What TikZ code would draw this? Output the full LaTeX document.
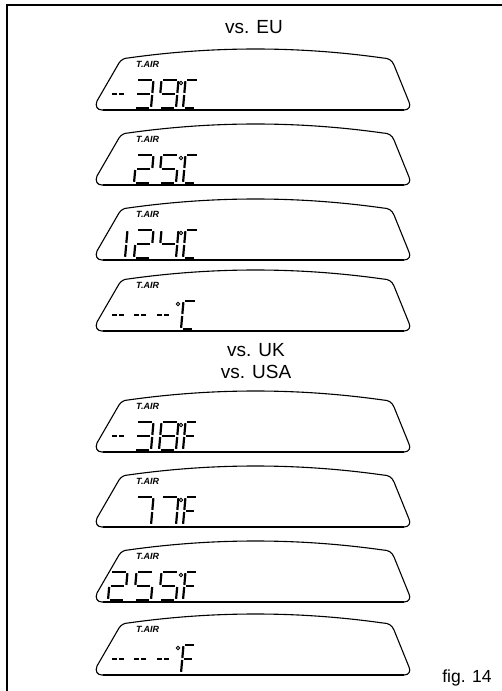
\documentclass[tikz,border=0pt]{standalone}
\usepackage{fontspec}
\setmainfont{Liberation Sans}
\usetikzlibrary{positioning}

\tikzset{
  seg/.style={line width=2.2pt, line cap=butt},
  seg a/.style={insert path={(1.8,-28) -- (\segw-1.8,-28)}},
  seg b/.style={insert path={(\segw,-26.8) -- (\segw,-15)}},
  seg c/.style={insert path={(\segw,-13) -- (\segw,-1.2)}},
  seg d/.style={insert path={(1.8,0) -- (\segw-1.8,0)}},
  seg e/.style={insert path={(0,-13) -- (0,-1.2)}},
  seg f/.style={insert path={(0,-26.8) -- (0,-15)}},
  seg g/.style={insert path={(1.8,-14) -- (\segw-1.8,-14)}},
  seg m/.style={insert path={(2.5,-14) -- (7.8,-14) (9.8,-14) -- (15,-14)}},
}

% one 7-segment digit: [width]{left x}{display bottom}{segments}
\newcommand{\segdigit}[4][17]{%
  \begin{scope}[shift={(#2,#3-2)}, xslant=0.09]
    \def\segw{#1}
    \foreach \s in {#4} {\draw[seg, seg \s];}
  \end{scope}}
% degree ring: {x}{display bottom}
\newcommand{\segdeg}[2]{\draw[degree] (#1,#2-27) circle (1.7pt);}

\begin{document}
\begin{tikzpicture}[x=1pt, y=-1pt,
    frame/.style={line width=1.1pt},
    lcd frame/.style={line width=1.1pt, line join=round},
    lcd base/.style={line width=1.9pt},
    tair/.style={font=\bfseries\itshape\fontsize{9}{10}\selectfont, inner sep=0pt, anchor=west},
    heading/.style={font=\fontsize{19}{21}\selectfont, inner sep=0pt},
    degree/.style={line width=0.9pt}]
  \useasboundingbox (0,0) rectangle (502,691);
  % Draw page frame
  \draw[frame] (7,691) -- (7,5) -- (502,5);
  % Draw headings
  \node[heading] (eu) at (254,27) {vs. EU};
  \node[heading] (uk) at (256,350) {vs. UK};
  \node[heading] (usa) at (256,372) {vs. USA};
  \node[heading, font=\fontsize{17.5}{19}\selectfont] (fig) at (467,678) {fig. 14};
  % Draw the eight displays
  \foreach \b/\n in {110/1,185/2,260/3,331/4,452/5,527/6,602/7,675/8} {
    \draw[lcd frame] (102,\b) -- (404,\b) .. controls (409,\b) and (411,\b-4) .. (409,\b-8)
      -- (394,\b-45) .. controls (392,\b-50) and (388,\b-52) .. (383,\b-52)
      .. controls (298,\b-64) and (213,\b-64) .. (128,\b-52)
      .. controls (124,\b-52) and (121,\b-50) .. (119,\b-47)
      -- (97,\b-9) .. controls (95,\b-4) and (97,\b) .. (102,\b) -- cycle;
    \draw[lcd base] (103,\b) -- (404,\b);
    \node[tair] (tair\n) at (136,\b-46) {T.AIR};
  }
  % Draw Celsius readings
  \segdigit{108}{110}{m}
  \segdigit{134}{110}{a,b,c,d,g}
  \segdigit{159}{110}{a,b,c,d,f,g}
  \segdeg{181}{110}
  \segdigit[13]{183}{110}{a,f,e,d}
  \segdigit{134}{185}{a,b,g,e,d}
  \segdigit{159}{185}{a,f,g,c,d}
  \segdeg{181}{185}
  \segdigit[13]{183}{185}{a,f,e,d}
  \segdigit{108}{260}{b,c}
  \segdigit{134}{260}{a,b,g,e,d}
  \segdigit{159}{260}{f,g,b,c}
  \segdeg{181}{260}
  \segdigit[13]{183}{260}{a,f,e,d}
  \foreach \x in {108,130,153} {\segdigit{\x}{331}{m}}
  \segdeg{178}{331}
  \segdigit[13]{181}{331}{a,f,e,d}
  % Draw Fahrenheit readings
  \segdigit{108}{452}{m}
  \segdigit{134}{452}{a,b,c,d,g}
  \segdigit{159}{452}{a,b,c,d,e,f,g}
  \segdeg{181}{452}
  \segdigit[12]{183}{452}{a,f,e,g}
  \segdigit{134}{527}{a,b,c}
  \segdigit{159}{527}{a,b,c}
  \segdeg{181}{527}
  \segdigit[12]{183}{527}{a,f,e,g}
  \segdigit{108}{602}{a,b,g,e,d}
  \segdigit{134}{602}{a,f,g,c,d}
  \segdigit{159}{602}{a,f,g,c,d}
  \segdeg{181}{602}
  \segdigit[12]{183}{602}{a,f,e,g}
  \foreach \x in {108,130,153} {\segdigit{\x}{675}{m}}
  \segdeg{178}{675}
  \segdigit[12]{181}{675}{a,f,e,g}
\end{tikzpicture}
\end{document}
